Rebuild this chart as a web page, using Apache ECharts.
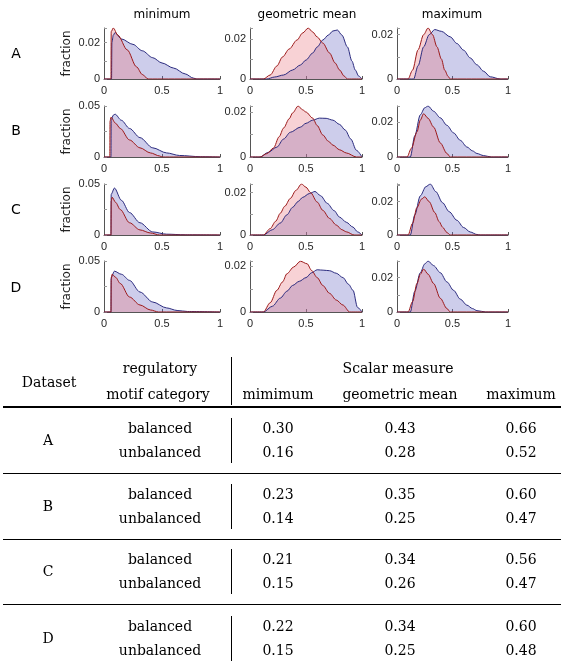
<!DOCTYPE html>
<html>
<head>
<meta charset="utf-8">
<script src="https://cdn.jsdelivr.net/npm/echarts@6/dist/echarts.min.js"></script>
<style>
  html, body { margin: 0; padding: 0; background: #fff; }
  #chart { width: 564px; height: 663px; }
</style>
</head>
<body>
<div id="chart"></div>
<script>
// panel titles and row names
const measures = ['minimum', 'geometric mean', 'maximum'];
const datasets = ['A', 'B', 'C', 'D'];
const xTicks = [0, 0.5, 1];

// top of each y axis and the labelled tick, per dataset row / measure column
const yMax = [
  [0.028, 0.0255, 0.023],
  [0.05, 0.0227, 0.029],
  [0.05, 0.024, 0.0306],
  [0.05, 0.0221, 0.0297]
];
const yLabel = [
  [0.02, 0.02, 0.02],
  [0.05, 0.02, 0.02],
  [0.05, 0.02, 0.02],
  [0.05, 0.02, 0.02]
];

// distributions [scalar value, fraction]; bal = balanced motifs (blue), unb = unbalanced (red)
const A_min_bal = [[0,0],[0.065,0],[0.068,0.02],[0.08,0.024],[0.095,0.0255],[0.15,0.022],[0.25,0.019],[0.33,0.0155],[0.42,0.0117],[0.5,0.0088],[0.6,0.006],[0.7,0.0028],[0.77,0.0005],[0.8,0],[1,0]];
const A_min_unb = [[0,0],[0.06,0],[0.062,0.026],[0.08,0.028],[0.12,0.024],[0.2,0.016],[0.28,0.0067],[0.33,0.0025],[0.38,0],[1,0]];
const A_gm_bal = [[0,0],[0.15,0],[0.22,0.001],[0.3,0.002],[0.38,0.0045],[0.45,0.007],[0.5,0.0095],[0.56,0.013],[0.6,0.016],[0.65,0.0195],[0.7,0.022],[0.74,0.024],[0.78,0.0245],[0.82,0.022],[0.87,0.016],[0.91,0.009],[0.94,0.0045],[0.97,0.0015],[1,0]];
const A_gm_unb = [[0,0],[0.12,0],[0.18,0.002],[0.24,0.0065],[0.29,0.011],[0.35,0.015],[0.42,0.0195],[0.47,0.023],[0.52,0.0255],[0.56,0.0235],[0.6,0.021],[0.65,0.018],[0.71,0.013],[0.76,0.008],[0.8,0.0045],[0.84,0.0015],[0.87,0],[1,0]];
const A_max_bal = [[0,0],[0.15,0],[0.19,0.006],[0.24,0.0145],[0.29,0.02],[0.34,0.0223],[0.4,0.0215],[0.48,0.019],[0.54,0.016],[0.6,0.013],[0.66,0.0095],[0.72,0.0064],[0.78,0.0035],[0.84,0.001],[0.93,0],[1,0]];
const A_max_unb = [[0,0],[0.1,0],[0.14,0.004],[0.19,0.0132],[0.24,0.02],[0.28,0.023],[0.32,0.02],[0.36,0.0145],[0.4,0.009],[0.43,0.004],[0.46,0.0012],[0.48,0],[1,0]];

const B_min_bal = [[0,0],[0.06,0],[0.062,0.036],[0.08,0.041],[0.095,0.042],[0.15,0.036],[0.22,0.028],[0.31,0.019],[0.42,0.009],[0.54,0.004],[0.65,0.0015],[0.83,0.0003],[1,0]];
const B_min_unb = [[0,0],[0.05,0],[0.052,0.035],[0.06,0.039],[0.1,0.033],[0.14,0.028],[0.22,0.0167],[0.31,0.009],[0.4,0.004],[0.48,0.001],[0.5,0],[1,0]];
const B_gm_bal = [[0,0],[0.09,0],[0.16,0.002],[0.24,0.0044],[0.3,0.008],[0.36,0.011],[0.45,0.0133],[0.5,0.015],[0.56,0.0164],[0.62,0.0173],[0.68,0.0172],[0.74,0.0164],[0.8,0.0145],[0.85,0.012],[0.9,0.008],[0.95,0.003],[1,0]];
const B_gm_unb = [[0,0],[0.09,0],[0.15,0.0015],[0.21,0.004],[0.26,0.009],[0.3,0.0129],[0.35,0.017],[0.38,0.0196],[0.43,0.0227],[0.47,0.021],[0.5,0.02],[0.56,0.0173],[0.6,0.014],[0.65,0.0098],[0.7,0.007],[0.74,0.0053],[0.8,0.0032],[0.86,0.0018],[0.95,0],[1,0]];
const B_max_bal = [[0,0],[0.12,0],[0.16,0.012],[0.21,0.024],[0.25,0.028],[0.28,0.029],[0.33,0.026],[0.39,0.0223],[0.45,0.018],[0.51,0.0137],[0.57,0.0095],[0.63,0.0057],[0.68,0.0035],[0.72,0.002],[0.78,0.0008],[0.85,0],[1,0]];
const B_max_unb = [[0,0],[0.09,0],[0.13,0.005],[0.18,0.0143],[0.21,0.021],[0.24,0.0246],[0.28,0.022],[0.33,0.017],[0.39,0.008],[0.45,0.002],[0.48,0],[1,0]];

const C_min_bal = [[0,0],[0.06,0],[0.062,0.04],[0.09,0.046],[0.15,0.034],[0.22,0.022],[0.31,0.012],[0.42,0.003],[0.54,0.0008],[0.7,0.0002],[1,0]];
const C_min_unb = [[0,0],[0.06,0],[0.062,0.033],[0.07,0.037],[0.1,0.032],[0.14,0.025],[0.22,0.012],[0.31,0.005],[0.4,0.002],[0.48,0],[1,0]];
const C_gm_bal = [[0,0],[0.12,0],[0.2,0.0025],[0.27,0.0056],[0.33,0.0095],[0.38,0.013],[0.43,0.0158],[0.47,0.0177],[0.53,0.0195],[0.58,0.0205],[0.63,0.0185],[0.69,0.0149],[0.75,0.0115],[0.8,0.0084],[0.86,0.006],[0.92,0.0037],[0.96,0.0015],[1,0]];
const C_gm_unb = [[0,0],[0.12,0],[0.18,0.003],[0.23,0.0065],[0.27,0.0102],[0.31,0.0135],[0.36,0.0172],[0.41,0.021],[0.46,0.024],[0.5,0.0225],[0.54,0.02],[0.6,0.0155],[0.65,0.0116],[0.71,0.0078],[0.77,0.0047],[0.82,0.0025],[0.86,0.0015],[0.93,0],[1,0]];
const C_max_bal = [[0,0],[0.12,0],[0.16,0.012],[0.21,0.0235],[0.26,0.029],[0.3,0.0306],[0.35,0.026],[0.41,0.0194],[0.47,0.014],[0.54,0.0088],[0.6,0.0045],[0.66,0.0018],[0.72,0.0003],[0.75,0],[1,0]];
const C_max_unb = [[0,0],[0.1,0],[0.14,0.007],[0.18,0.0165],[0.22,0.0215],[0.25,0.0229],[0.29,0.02],[0.34,0.0135],[0.38,0.008],[0.41,0.0047],[0.45,0.0015],[0.48,0],[1,0]];

const D_min_bal = [[0,0],[0.06,0],[0.062,0.034],[0.09,0.04],[0.15,0.037],[0.22,0.031],[0.31,0.0196],[0.42,0.0098],[0.54,0.004],[0.63,0.0015],[0.72,0.0005],[1,0]];
const D_min_unb = [[0,0],[0.06,0],[0.062,0.032],[0.07,0.037],[0.1,0.034],[0.14,0.028],[0.22,0.0147],[0.31,0.0069],[0.4,0.002],[0.47,0],[1,0]];
const D_gm_bal = [[0,0],[0.12,0],[0.2,0.0025],[0.27,0.006],[0.33,0.009],[0.38,0.0115],[0.44,0.0133],[0.5,0.0149],[0.55,0.017],[0.6,0.0183],[0.66,0.0181],[0.71,0.0179],[0.77,0.0168],[0.83,0.0149],[0.88,0.012],[0.92,0.0094],[0.96,0.002],[1,0]];
const D_gm_unb = [[0,0],[0.12,0],[0.18,0.004],[0.24,0.0094],[0.29,0.013],[0.33,0.0166],[0.39,0.0195],[0.45,0.022],[0.51,0.0209],[0.55,0.018],[0.6,0.0149],[0.65,0.0115],[0.71,0.0081],[0.77,0.0052],[0.83,0.003],[0.89,0],[1,0]];
const D_max_bal = [[0,0],[0.12,0],[0.16,0.012],[0.21,0.0229],[0.25,0.028],[0.28,0.0297],[0.33,0.027],[0.39,0.0229],[0.45,0.0175],[0.51,0.0126],[0.57,0.0075],[0.63,0.004],[0.68,0.002],[0.72,0.0008],[0.8,0],[1,0]];
const D_max_unb = [[0,0],[0.1,0],[0.14,0.006],[0.18,0.0166],[0.21,0.022],[0.24,0.025],[0.28,0.022],[0.33,0.0166],[0.39,0.008],[0.45,0.002],[0.48,0],[1,0]];

// table
const tableHeaders = ['mimimum', 'geometric mean', 'maximum'];
const motifCategories = ['balanced', 'unbalanced'];
const balancedValues = [[0.30, 0.43, 0.66], [0.23, 0.35, 0.60], [0.21, 0.34, 0.56], [0.22, 0.34, 0.60]];
const unbalancedValues = [[0.16, 0.28, 0.52], [0.14, 0.25, 0.47], [0.15, 0.26, 0.47], [0.15, 0.25, 0.48]];

const panels = [
  [[A_min_bal, A_min_unb], [A_gm_bal, A_gm_unb], [A_max_bal, A_max_unb]],
  [[B_min_bal, B_min_unb], [B_gm_bal, B_gm_unb], [B_max_bal, B_max_unb]],
  [[C_min_bal, C_min_unb], [C_gm_bal, C_gm_unb], [C_max_bal, C_max_unb]],
  [[D_min_bal, D_min_unb], [D_gm_bal, D_gm_unb], [D_max_bal, D_max_unb]]
];

// layout in pixels
const colLeft = [104, 250, 397];
const colWidth = [116, 112, 111];
const rowTop = [28, 106, 184, 261];
const rowHeight = 51;

const sans = 'DejaVu Sans';
const tickFont = 'Liberation Sans';
const serif = 'DejaVu Serif';
const tickColor = '#262626';

const grid = [], xAxis = [], yAxis = [], series = [];
datasets.forEach((d, r) => {
  measures.forEach((m, c) => {
    const i = grid.length;
    grid.push({ left: colLeft[c], top: rowTop[r], width: colWidth[c], height: rowHeight });
    xAxis.push({
      gridIndex: i, type: 'value', min: xTicks[0], max: xTicks[2], interval: xTicks[1],
      axisLine: { lineStyle: { color: '#555', width: 1 } },
      axisTick: { inside: true, length: 3, lineStyle: { color: '#555' } },
      splitLine: { show: false },
      axisLabel: { fontFamily: tickFont, fontSize: 11, color: tickColor, margin: 6 }
    });
    const lab = yLabel[r][c];
    yAxis.push({
      gridIndex: i, type: 'value', min: 0, max: yMax[r][c], interval: lab / 2,
      name: c === 0 ? 'fraction' : '',
      nameLocation: 'middle', nameGap: 31,
      nameTextStyle: { fontFamily: sans, fontSize: 12, color: '#222' },
      axisLine: { show: true, lineStyle: { color: '#555', width: 1 } },
      axisTick: { show: true, inside: true, length: 3, lineStyle: { color: '#999' } },
      splitLine: { show: false },
      axisLabel: {
        fontFamily: tickFont, fontSize: 11, color: tickColor, margin: 4,
        formatter: v => (v === 0 || Math.abs(v - lab) < 1e-9) ? String(v) : ''
      }
    });
    const [bal, unb] = panels[r][c];
    series.push({
      type: 'line', xAxisIndex: i, yAxisIndex: i, data: bal,
      showSymbol: false, smooth: 0.3, smoothMonotone: 'x',
      lineStyle: { color: '#2b2b7e', width: 1 },
      areaStyle: { color: 'rgba(105,105,195,0.48)' },
      silent: true, animation: false
    });
    series.push({
      type: 'line', xAxisIndex: i, yAxisIndex: i, data: unb,
      showSymbol: false, smooth: 0.3, smoothMonotone: 'x',
      lineStyle: { color: '#9c1a1a', width: 1 },
      areaStyle: { color: 'rgba(234,120,130,0.48)' },
      silent: true, animation: false
    });
  });
});

// text and rules drawn as graphic elements
const graphic = [];
const txt = (text, x, y, font, align) => ({
  type: 'text', x, y, silent: true,
  style: { text, font, fill: '#000', textAlign: align || 'center', verticalAlign: 'middle', textVerticalAlign: 'middle' }
});
const rule = (x1, y1, x2, y2, w) => ({
  type: 'line', silent: true,
  shape: { x1, y1, x2, y2 }, style: { stroke: '#000', lineWidth: w || 1 }
});

const titleX = [162, 307, 452];
measures.forEach((m, c) => graphic.push(txt(m, titleX[c], 15, '12px ' + sans)));
const letterY = [54, 131, 210, 288];
datasets.forEach((d, r) => graphic.push(txt(d, 16, letterY[r], '14px ' + sans)));

// table header
const tFont = '14px ' + serif;
const valueX = [278, 400, 521];
graphic.push(txt('Dataset', 49, 383, tFont));
graphic.push(txt('regulatory', 160, 369, tFont));
graphic.push(txt('motif category', 158, 395, tFont));
graphic.push(txt('Scalar measure', 398, 369, tFont));
tableHeaders.forEach((h, k) => graphic.push(txt(h, valueX[k], 395, tFont)));
graphic.push(rule(231.5, 357, 231.5, 405, 1));
graphic.push(rule(3, 407, 561, 407, 2));

// table body
const groupTop = [429, 495, 560, 627];
datasets.forEach((d, g) => {
  const y0 = groupTop[g], y1 = y0 + 24;
  graphic.push(txt(d, 48, (y0 + y1) / 2, tFont));
  graphic.push(txt(motifCategories[0], 160, y0, tFont));
  graphic.push(txt(motifCategories[1], 160, y1, tFont));
  graphic.push(rule(231.5, y0 - 11, 231.5, y1 + 10, 1));
  balancedValues[g].forEach((v, k) => graphic.push(txt(v.toFixed(2), valueX[k], y0, tFont)));
  unbalancedValues[g].forEach((v, k) => graphic.push(txt(v.toFixed(2), valueX[k], y1, tFont)));
  if (g < datasets.length - 1) graphic.push(rule(3, y1 + 20.5, 561, y1 + 20.5, 1));
});

const chart = echarts.init(document.getElementById('chart'), null, { renderer: 'canvas' });
chart.setOption({
  backgroundColor: '#fff',
  animation: false,
  grid, xAxis, yAxis, series, graphic
});
</script>
</body>
</html>
